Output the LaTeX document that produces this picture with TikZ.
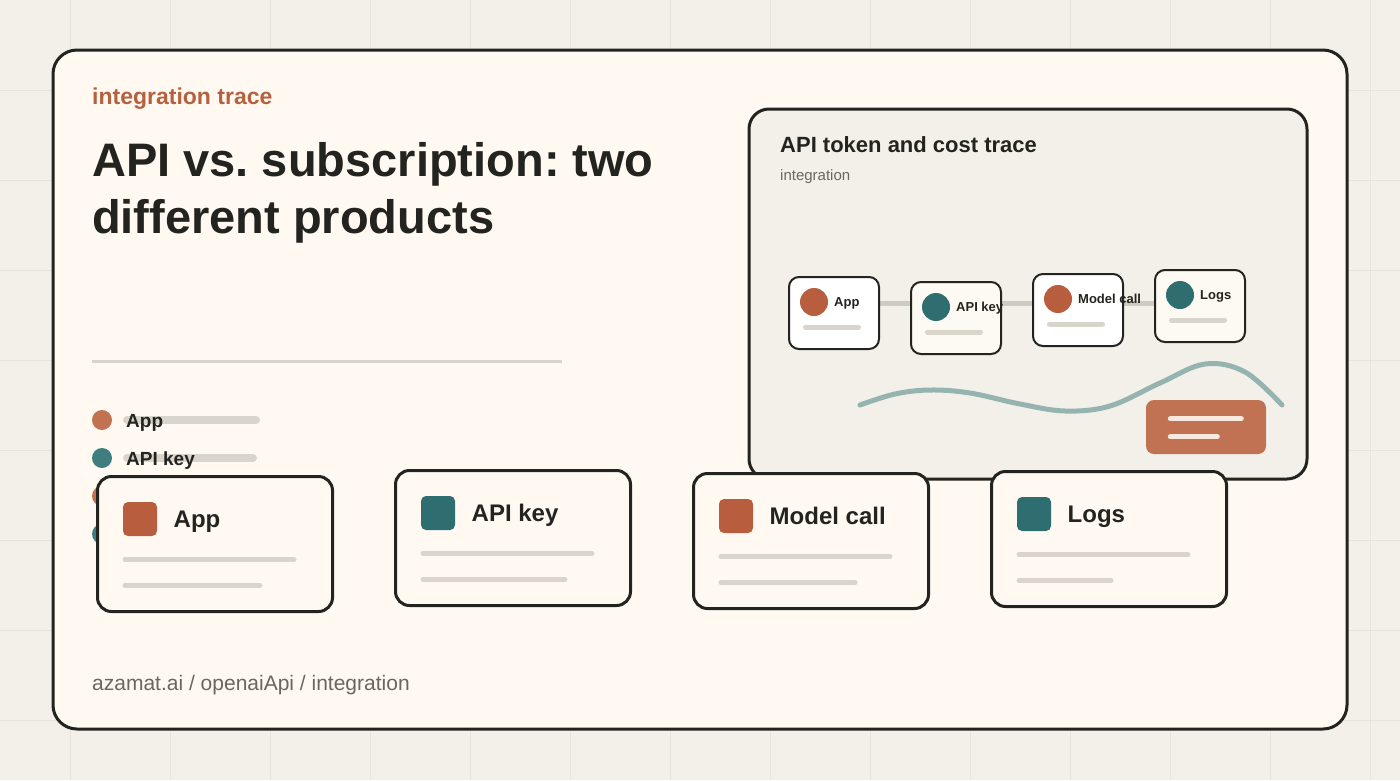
\documentclass[tikz,border=0pt]{standalone}
\usepackage{fontspec}
\setmainfont{Liberation Sans}
\usetikzlibrary{positioning,calc}
\definecolor{paper}{HTML}{F2F0E9}
\definecolor{gridln}{HTML}{E7E4DC}
\definecolor{cream}{HTML}{FFF9F2}
\definecolor{ink}{HTML}{23231F}
\definecolor{rust}{HTML}{B85D3D}
\definecolor{rustsoft}{HTML}{C07252}
\definecolor{rusttext}{HTML}{B5613F}
\definecolor{tealink}{HTML}{2E6D70}
\definecolor{tealsoft}{HTML}{3F7E80}
\definecolor{panelbg}{HTML}{F2F0E8}
\definecolor{barcol}{HTML}{D9D5CD}
\definecolor{trackcol}{HTML}{CFCBC2}
\definecolor{wavecol}{HTML}{95B4AF}
\definecolor{mutedtxt}{HTML}{6B665E}
\definecolor{chipwhite}{HTML}{FFFFFF}
\definecolor{chipcream}{HTML}{FDF9F3}
\definecolor{notecream}{HTML}{F7E9DD}
\newcommand{\pxfont}[1]{\fontsize{#1}{#1}\selectfont}
\frenchspacing
\pgfdeclarelayer{backdrop}
\pgfdeclarelayer{track}
\pgfsetlayers{backdrop,track,main}
\tikzset{
  gridline/.style={gridln,line width=1pt},
  bigcard/.style={draw=ink,fill=cream,line width=3pt,rounded corners=24pt,
                  minimum width=1294pt,minimum height=679pt,inner sep=0pt},
  panel/.style={draw=ink,fill=panelbg,line width=3pt,rounded corners=20pt,
                minimum width=558pt,minimum height=370pt,inner sep=0pt},
  chip/.style={draw=ink,line width=2pt,rounded corners=10pt,
               minimum width=90pt,minimum height=72pt,inner sep=0pt},
  bigchip/.style={draw=ink,fill=cream,line width=3pt,rounded corners=14pt,
                  minimum width=235pt,minimum height=135pt,inner sep=0pt},
  legdot/.style={circle,inner sep=0pt,minimum size=20pt},
  bar/.style={barcol,line width=5pt,line cap=round},
  legbar/.style={barcol,line width=8pt,line cap=round},
  chiplabel/.style={font=\bfseries\pxfont{13},text=ink,anchor=base west,inner sep=0pt},
  cardlabel/.style={font=\bfseries\pxfont{24},text=ink,anchor=base west,inner sep=0pt},
  leglabel/.style={font=\bfseries\pxfont{19},text=ink,anchor=base west,inner sep=0pt},
  plain/.style={anchor=base west,inner sep=0pt}
}

\begin{document}
\begin{tikzpicture}[x=1pt,y=-1pt]
  \useasboundingbox (0,0) rectangle (1400,780);

  % backdrop: paper, grid, the big card and the trace panel
  \begin{pgfonlayer}{backdrop}
    \fill[paper] (0,0) rectangle (1400,780);
    \foreach \gx in {70,170,...,1370} \draw[gridline] (\gx,0) -- (\gx,780);
    \foreach \gy in {90,180,...,720} \draw[gridline] (0,\gy) -- (1400,\gy);
    \node[bigcard] (card) at (700,389.5) {};
    \node[panel] (trace) at (1028,294) {};
  \end{pgfonlayer}

  % heading
  \node[plain,font=\bfseries\pxfont{23},text=rusttext] (kicker) at (92,104) {integration trace};
  \node[plain,font=\bfseries\pxfont{47},text=ink] (title1) at (92,176) {API vs. subscription: two};
  \node[plain,font=\bfseries\pxfont{47},text=ink] (title2) at (92,233) {different products};
  \draw[barcol,line width=3pt] (92,361) -- (562,361);

  % legend
  \foreach \nm/\yy/\col in {lgApp/420/rustsoft,lgKey/458/tealsoft,lgCall/496/rustsoft,lgLogs/534/tealsoft}
    \node[legdot,fill=\col] (\nm) at (102,\yy) {};
  \draw[legbar] (127,420) -- (256,420);
  \draw[legbar] (127,458) -- (253,458);
  \node[leglabel] (lgApp-lbl) at (126,427) {App};
  \node[leglabel] (lgKey-lbl) at (126,465) {API key};

  % trace panel
  \node[plain,font=\bfseries\pxfont{22},text=ink] (traceTitle) at (780,152) {API token and cost trace};
  \node[plain,font=\pxfont{15},text=mutedtxt] (traceSub) at (780,180) {integration};
  \foreach \nm/\cx/\cy/\col/\fil/\txt in {tApp/834/313/rust/chipwhite/App,
      tKey/956/318/tealink/chipcream/API key,
      tCall/1078/310/rust/chipwhite/Model call,
      tLogs/1200/306/tealink/chipcream/Logs} {
    \node[chip,fill=\fil] (\nm) at (\cx,\cy) {};
    \fill[\col] ($(\nm.north west)+(26,26)$) circle (14pt);
    \node[chiplabel] (\nm-lbl) at ($(\nm.north west)+(46,30.5)$) {\txt};
    \draw[bar] ($(\nm.north west)+(17.5,51)$) -- ++(53,0);
  }
  \coordinate (trackrow) at (0,303);
  \begin{pgfonlayer}{track}
    \draw[trackcol,line width=5pt] (tApp.center |- trackrow) -- (tLogs.center |- trackrow);
  \end{pgfonlayer}
  \draw[wavecol,line width=5pt,line cap=round] plot[smooth,tension=0.6] coordinates
    {(860,405) (895,394) (930,390) (970,393) (1020,404) (1065,411) (1110,406) (1160,383) (1205,364) (1245,372) (1282,405)};
  \node[fill=rustsoft,rounded corners=8pt,minimum width=120pt,minimum height=54pt,inner sep=0pt] (note) at (1206,427) {};
  \draw[notecream,line width=5pt,line cap=round] ($(note.north west)+(24.5,19)$) -- ++(71,0);
  \draw[notecream,line width=5pt,line cap=round] ($(note.north west)+(24.5,37)$) -- ++(47,0);

  % bottom cards
  \foreach \nm/\lx/\ty/\col/\txt/\blen in {cApp/96/475/rust/App/135,
      cKey/394/469/tealink/API key/142,
      cCall/692/472/rust/Model call/134,
      cLogs/990/470/tealink/Logs/92} {
    \node[bigchip] (\nm) at ({\lx+119},{\ty+69}) {};
    \fill[\col,rounded corners=5pt] ($(\nm.north west)+(27,27)$) rectangle ++(34,34);
    \node[cardlabel] (\nm-lbl) at ($(\nm.north west)+(77.5,52)$) {\txt};
    \draw[bar] ($(\nm.north west)+(29,84.5)$) -- ++(169,0);
    \draw[bar] ($(\nm.north west)+(29,110.5)$) -- ++(\blen,0);
  }

  % footer
  \node[plain,font=\pxfont{21},text=mutedtxt] (footer) at (92,690) {azamat.ai / openaiApi / integration};
\end{tikzpicture}
\end{document}
